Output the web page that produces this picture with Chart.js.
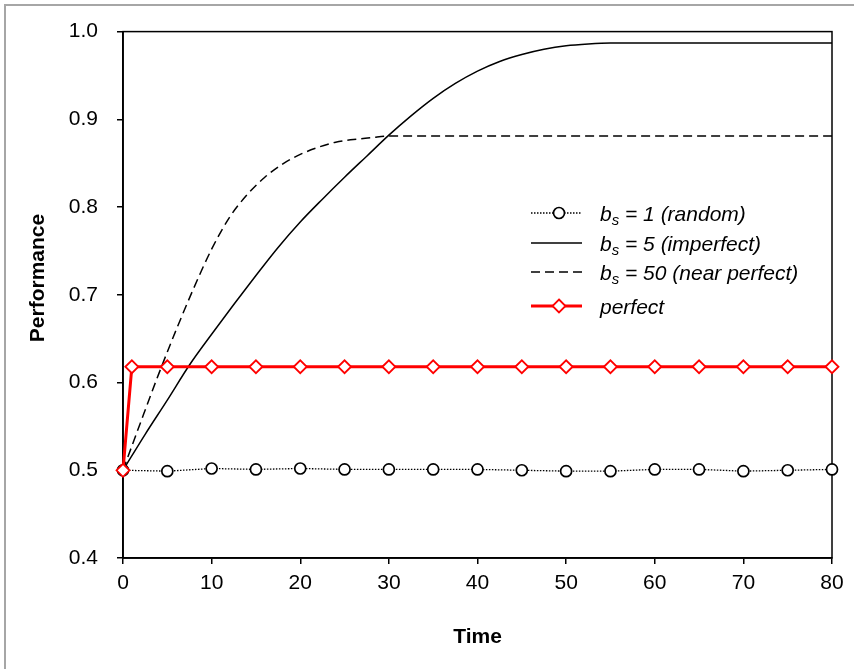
<!DOCTYPE html>
<html>
<head>
<meta charset="utf-8">
<script src="https://cdn.jsdelivr.net/npm/chart.js@4/dist/chart.umd.min.js"></script>
<style>
  html, body { margin: 0; padding: 0; background: #fff; overflow: hidden; }
  canvas { display: block; }
</style>
</head>
<body>
<canvas id="chart" width="854" height="669"></canvas>
<script>
// Sampled time steps (random and perfect learners)
const sampleTimes = [0, 5, 10, 15, 20, 25, 30, 35, 40, 45, 50, 55, 60, 65, 70, 75, 80];
const randomPerf  = [0.500, 0.499, 0.502, 0.501, 0.502, 0.501, 0.501, 0.501, 0.501,
                     0.500, 0.499, 0.499, 0.501, 0.501, 0.499, 0.500, 0.501];

// b_s = 5 (imperfect)
const imperfectTimes = [0, 2.5, 5, 7.5, 10, 12.5, 15, 17.5, 20, 22.5, 25, 27.5, 30, 32.5,
                        35, 37.5, 40, 42.5, 45, 47.5, 50, 52.5, 55, 57.5, 60, 70, 80];
const imperfectPerf  = [0.500, 0.541, 0.580, 0.620, 0.655, 0.689, 0.722, 0.754, 0.783, 0.809,
                        0.834, 0.858, 0.882, 0.904, 0.924, 0.941, 0.955, 0.966, 0.974, 0.980,
                        0.984, 0.986, 0.987, 0.987, 0.987, 0.987, 0.987];

// b_s = 50 (near perfect)
const nearTimes = [0, 2, 4, 6, 8, 10, 12, 14, 16, 18, 20, 22, 24, 26, 28, 30, 40, 50, 60, 70, 80];
const nearPerf  = [0.500, 0.555, 0.609, 0.660, 0.708, 0.752, 0.788, 0.814, 0.834, 0.849, 0.860,
                   0.868, 0.874, 0.877, 0.879, 0.881, 0.881, 0.881, 0.881, 0.881, 0.881];

// perfect
const perfectTimes = [0, 1, 5, 10, 15, 20, 25, 30, 35, 40, 45, 50, 55, 60, 65, 70, 75, 80];
const perfectPerf  = [0.500, 0.618, 0.618, 0.618, 0.618, 0.618, 0.618, 0.618, 0.618, 0.618,
                      0.618, 0.618, 0.618, 0.618, 0.618, 0.618, 0.618, 0.618];

// Legend entries: base letter, subscript, remainder
const legendNames = [
  ['b', 's', ' = 1 (random)'],
  ['b', 's', ' = 5 (imperfect)'],
  ['b', 's', ' = 50 (near perfect)'],
  ['perfect', '', '']
];

const yTicks = [0.4, 0.5, 0.6, 0.7, 0.8, 0.9, 1.0];
const xTicks = [0, 10, 20, 30, 40, 50, 60, 70, 80];
const xTitle = 'Time';
const yTitle = 'Performance';

const FONT = '"Liberation Sans", Arial, Helvetica, sans-serif';

function pts(xs, ys) { return xs.map((x, i) => ({ x: x, y: ys[i] })); }

// Outer frame, plot box and the vertical axis title
const framePlugin = {
  id: 'frame',
  beforeDraw(chart) {
    const ctx = chart.ctx;
    ctx.save();
    ctx.fillStyle = '#fff';
    ctx.fillRect(0, 0, chart.width, chart.height);
    ctx.strokeStyle = '#a6a6a6';
    ctx.lineWidth = 2;
    ctx.beginPath();
    ctx.moveTo(5, chart.height + 2);
    ctx.lineTo(5, 5);
    ctx.lineTo(chart.width + 2, 5);
    ctx.stroke();
    ctx.restore();
  },
  beforeDatasetsDraw(chart) {
    const a = chart.chartArea, ctx = chart.ctx;
    ctx.save();
    ctx.strokeStyle = '#000';
    ctx.lineWidth = 1.5;
    ctx.strokeRect(a.left, a.top, a.right - a.left, a.bottom - a.top);
    ctx.restore();
  },
  afterDraw(chart) {
    const ctx = chart.ctx;
    ctx.save();
    ctx.translate(38, 278);
    ctx.rotate(-Math.PI / 2);
    ctx.fillStyle = '#000';
    ctx.font = 'bold 21px ' + FONT;
    ctx.textAlign = 'center';
    ctx.textBaseline = 'middle';
    ctx.fillText(yTitle, 0, 0);
    ctx.restore();
  }
};

// Legend drawn inside the plot area, with subscripted labels
const legendPlugin = {
  id: 'insideLegend',
  afterDraw(chart) {
    const ctx = chart.ctx;
    const rows = [213, 243, 272, 306];
    const x0 = 531, x1 = 582, xm = 559, tx = 600;
    ctx.save();
    chart.data.datasets.forEach((ds, i) => {
      const y = rows[i];
      ctx.strokeStyle = ds.borderColor;
      ctx.lineWidth = ds.borderWidth;
      ctx.setLineDash(ds.borderDash || []);
      ctx.beginPath();
      ctx.moveTo(x0, y);
      ctx.lineTo(x1, y);
      ctx.stroke();
      ctx.setLineDash([]);
      if (ds.pointRadius > 0) {
        ctx.fillStyle = ds.pointBackgroundColor;
        ctx.strokeStyle = ds.pointBorderColor;
        ctx.lineWidth = ds.pointBorderWidth;
        ctx.beginPath();
        if (ds.pointStyle === 'circle') {
          ctx.arc(xm, y, ds.pointRadius, 0, Math.PI * 2);
        } else {
          const r = ds.pointRadius;
          ctx.moveTo(xm, y - r); ctx.lineTo(xm + r, y); ctx.lineTo(xm, y + r); ctx.lineTo(xm - r, y);
          ctx.closePath();
        }
        ctx.fill();
        ctx.stroke();
      }
      const [base, sub, rest] = legendNames[i];
      ctx.fillStyle = '#000';
      ctx.textBaseline = 'alphabetic';
      ctx.textAlign = 'left';
      ctx.font = 'italic 21px ' + FONT;
      let x = tx;
      const baseY = y + 8;
      ctx.fillText(base, x, baseY);
      x += ctx.measureText(base).width;
      if (sub) {
        ctx.font = 'italic 15px ' + FONT;
        ctx.fillText(sub, x, baseY + 4);
        x += ctx.measureText(sub).width;
        ctx.font = 'italic 21px ' + FONT;
      }
      if (rest) ctx.fillText(rest, x, baseY);
    });
    ctx.restore();
  }
};

const axisStyle = {
  grid: { display: true, drawOnChartArea: false, drawTicks: true, tickLength: 6, color: '#000', lineWidth: 1.5 },
  border: { display: true, color: '#000', width: 1.8 }
};

new Chart(document.getElementById('chart'), {
  type: 'line',
  data: {
    datasets: [
      {
        label: 'b_s = 1 (random)',
        data: pts(sampleTimes, randomPerf),
        borderColor: '#000', borderWidth: 1.3, borderDash: [1.5, 1.5],
        pointStyle: 'circle', pointRadius: 5.5, pointBorderWidth: 1.7,
        pointBackgroundColor: '#fff', pointBorderColor: '#000',
        tension: 0, clip: false, order: 4
      },
      {
        label: 'b_s = 5 (imperfect)',
        data: pts(imperfectTimes, imperfectPerf),
        borderColor: '#000', borderWidth: 1.5,
        pointRadius: 0, cubicInterpolationMode: 'monotone', order: 3
      },
      {
        label: 'b_s = 50 (near perfect)',
        data: pts(nearTimes, nearPerf),
        borderColor: '#000', borderWidth: 1.5, borderDash: [9, 5],
        pointRadius: 0, cubicInterpolationMode: 'monotone', order: 2
      },
      {
        label: 'perfect',
        data: pts(perfectTimes, perfectPerf),
        borderColor: '#ff0000', borderWidth: 3,
        pointStyle: 'rectRot', pointRadius: 6.5, pointBorderWidth: 1.8,
        pointBackgroundColor: '#fff', pointBorderColor: '#ff0000',
        tension: 0, clip: false, order: 1
      }
    ]
  },
  options: {
    responsive: false,
    animation: false,
    layout: { padding: { left: 0, top: 30, right: 22, bottom: 0 } },
    plugins: { legend: { display: false }, tooltip: { enabled: false } },
    scales: {
      x: {
        type: 'linear', min: 0, max: 80,
        afterFit(scale) { scale.height = 111; },
        afterBuildTicks(scale) { scale.ticks = xTicks.map(v => ({ value: v })); },
        ticks: { color: '#000', font: { family: FONT, size: 21 }, padding: 7, maxRotation: 0 },
        title: { display: true, text: xTitle, color: '#000', font: { family: FONT, size: 21, weight: 'bold' },
                 padding: { top: 19, bottom: 19 } },
        ...axisStyle
      },
      y: {
        type: 'linear', min: 0.4, max: 1.0,
        afterFit(scale) { scale.width = 123; },
        afterBuildTicks(scale) { scale.ticks = yTicks.map(v => ({ value: v })); },
        ticks: { color: '#000', font: { family: FONT, size: 21 }, padding: 19,
                 callback: v => Number(v).toFixed(1) },
        ...axisStyle
      }
    }
  },
  plugins: [framePlugin, legendPlugin]
});
</script>
</body>
</html>
